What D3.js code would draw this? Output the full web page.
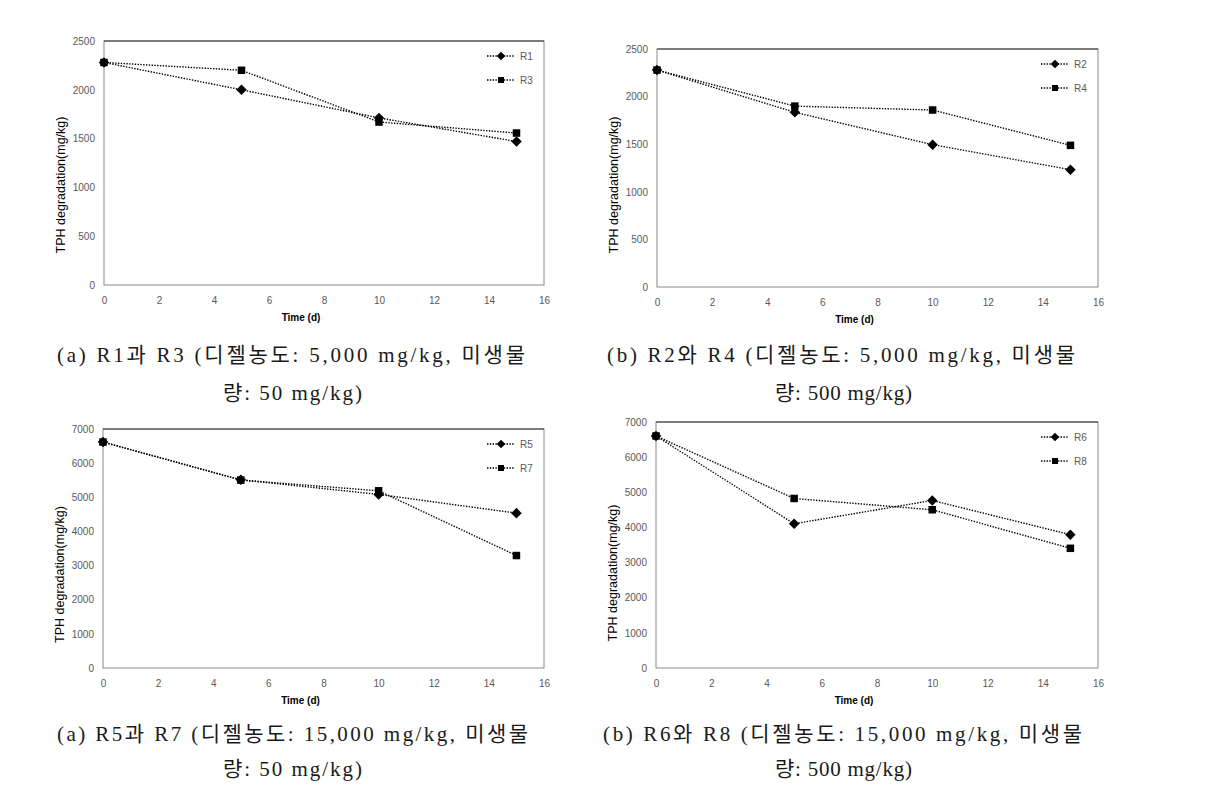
<!DOCTYPE html>
<html>
<head>
<meta charset="utf-8">
<script src="https://cdn.jsdelivr.net/npm/d3@7"></script>
<style>
  html, body { margin: 0; padding: 0; background: #fff; }
  svg { display: block; }
</style>
</head>
<body>
<svg id="chart" width="1216" height="791"></svg>
<script>
// ---- data ----
const days = [0, 5, 10, 15];
const xTicks = [0, 2, 4, 6, 8, 10, 12, 14, 16];
const yTicksLow = [0, 500, 1000, 1500, 2000, 2500];
const yTicksHigh = [0, 1000, 2000, 3000, 4000, 5000, 6000, 7000];

const R1 = [2280, 2000, 1712, 1470];
const R3 = [2280, 2200, 1670, 1557];
const R2 = [2279, 1835, 1495, 1232];
const R4 = [2279, 1900, 1859, 1488];
const R5 = [6618, 5512, 5084, 4536];
const R7 = [6618, 5504, 5190, 3294];
const R6 = [6603, 4105, 4768, 3793];
const R8 = [6603, 4824, 4503, 3406];

const yTitle = "TPH degradation(mg/kg)";
const xTitle = "Time (d)";

const captionA1 = ["(a) R1과 R3 (디젤농도: 5,000 mg/kg, 미생물", "량: 50 mg/kg)"];
const captionB1 = ["(b) R2와 R4 (디젤농도: 5,000 mg/kg, 미생물", "량: 500 mg/kg)"];
const captionA2 = ["(a) R5과 R7 (디젤농도: 15,000 mg/kg, 미생물", "량: 50 mg/kg)"];
const captionB2 = ["(b) R6와 R8 (디젤농도: 15,000 mg/kg, 미생물", "량: 500 mg/kg)"];

// ---- layout ----
const panels = [
  { l: 104, r: 544, t: 41, b: 285, ymax: 2500, yt: yTicksLow,
    series: [{name: "R1", v: R1, m: "diamond"}, {name: "R3", v: R3, m: "square"}],
    cap: captionA1, c1: [57, 525, 362], c2: [223, 362, 400], ytOff: 22 },
  { l: 657, r: 1098, t: 49, b: 287, ymax: 2500, yt: yTicksLow,
    series: [{name: "R2", v: R2, m: "diamond"}, {name: "R4", v: R4, m: "square"}],
    cap: captionB1, c1: [607, 1075, 362], c2: [775, 912, 400], ytOff: 17 },
  { l: 103, r: 544, t: 429, b: 668, ymax: 7000, yt: yTicksHigh,
    series: [{name: "R5", v: R5, m: "diamond"}, {name: "R7", v: R7, m: "square"}],
    cap: captionA2, c1: [57, 528, 741], c2: [223, 362, 776], ytOff: 26 },
  { l: 656, r: 1098, t: 422, b: 668, ymax: 7000, yt: yTicksHigh,
    series: [{name: "R6", v: R6, m: "diamond"}, {name: "R8", v: R8, m: "square"}],
    cap: captionB2, c1: [603, 1082, 741], c2: [775, 912, 776], ytOff: 28 }
];

const svg = d3.select("#chart");
const tickFont = "'Liberation Sans', Arial, sans-serif";
const capFont = "'Liberation Serif', 'Noto Sans CJK KR', serif";

function marker(g, type, x, y, s) {
  if (type === "square") {
    g.append("rect").attr("x", x - s / 2).attr("y", y - s / 2)
      .attr("width", s).attr("height", s).attr("fill", "#000");
  } else {
    const h = s * 0.62;
    g.append("path")
      .attr("d", `M${x},${y - h}L${x + h},${y}L${x},${y + h}L${x - h},${y}Z`)
      .attr("fill", "#000");
  }
}

panels.forEach(p => {
  const g = svg.append("g");
  const x = d3.scaleLinear().domain([0, 16]).range([p.l, p.r]);
  const y = d3.scaleLinear().domain([0, p.ymax]).range([p.b, p.t]);

  // plot frame
  g.append("rect").attr("x", p.l).attr("y", p.t)
    .attr("width", p.r - p.l).attr("height", p.b - p.t)
    .attr("fill", "none").attr("stroke", "#8a8a8a").attr("stroke-width", 1);
  g.append("line").attr("x1", p.l).attr("x2", p.r).attr("y1", p.t).attr("y2", p.t)
    .attr("stroke", "#333").attr("stroke-width", 1);

  // axes via d3 axis generators (no tick lines)
  const xa = g.append("g").attr("transform", `translate(0,${p.b})`)
    .call(d3.axisBottom(x).tickValues(xTicks).tickSize(0).tickPadding(12).tickFormat(d3.format("d")));
  const ya = g.append("g").attr("transform", `translate(${p.l},0)`)
    .call(d3.axisLeft(y).tickValues(p.yt).tickSize(0).tickPadding(9).tickFormat(d3.format("d")));
  [xa, ya].forEach(a => {
    a.select(".domain").remove();
    a.selectAll("text").attr("font-family", tickFont).attr("font-size", 10)
      .attr("fill", "#595959");
  });

  // axis titles
  g.append("text")
    .attr("transform", `translate(${p.l - 39},${(p.t + p.b) / 2 + p.ytOff}) rotate(-90)`)
    .attr("text-anchor", "middle").attr("font-family", tickFont).attr("font-size", 12.5)
    .attr("fill", "#000").text(yTitle);
  g.append("text")
    .attr("x", (p.l + p.r) / 2 - 23).attr("y", p.b + 36)
    .attr("text-anchor", "middle").attr("font-family", tickFont).attr("font-size", 10)
    .attr("font-weight", "bold").attr("fill", "#000").text(xTitle);

  // series
  const line = d3.line().x((d, i) => x(days[i])).y(d => y(d));
  p.series.forEach((s, si) => {
    g.append("path").datum(s.v).attr("d", line)
      .attr("fill", "none").attr("stroke", "#000").attr("stroke-width", 1.4)
      .attr("stroke-dasharray", "1.4,1.4");
    s.v.forEach((v, i) => marker(g, s.m, x(days[i]), y(v), s.m === "square" ? 7.5 : 8.5));

    // legend
    const ly = p.t + 15 + si * 24;
    g.append("line").attr("x1", p.r - 57).attr("x2", p.r - 29).attr("y1", ly).attr("y2", ly)
      .attr("stroke", "#000").attr("stroke-width", 1.4).attr("stroke-dasharray", "1.4,1.4");
    marker(g, s.m, p.r - 43, ly, s.m === "square" ? 6 : 7);
    g.append("text").attr("x", p.r - 24).attr("y", ly + 3.5)
      .attr("font-family", tickFont).attr("font-size", 10).attr("fill", "#595959").text(s.name);
  });

  // captions
  [[p.cap[0], p.c1], [p.cap[1], p.c2]].forEach(([txt, c]) => {
    svg.append("text").attr("x", c[0]).attr("y", c[2])
      .attr("font-family", capFont).attr("font-size", 21).attr("fill", "#1a1a1a")
      .attr("textLength", c[1] - c[0]).attr("lengthAdjust", "spacing")
      .text(txt);
  });
});
</script>
</body>
</html>
